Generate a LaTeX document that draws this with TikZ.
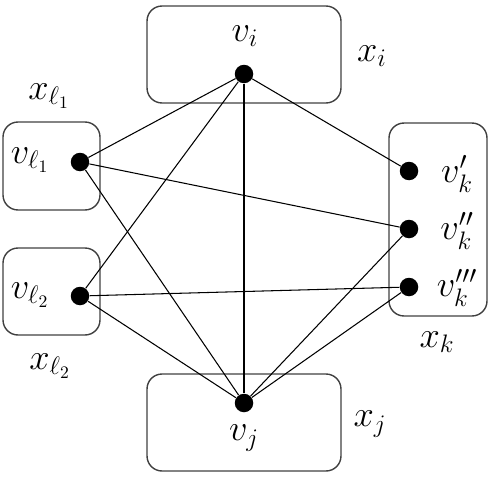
\documentclass[tikz,border=0pt]{standalone}
\usepackage{amsmath,amssymb}
\usetikzlibrary{positioning}

\begin{document}
\begin{tikzpicture}[x=0.02cm, y=-0.02cm,
    vertex/.style={circle, fill=black, inner sep=0pt, minimum size=0.37cm},
    cluster/.style={draw=black!75, line width=0.8pt, rounded corners=0.3cm, inner sep=0pt},
    lbl/.style={font=\fontsize{19.5}{23}\selectfont, inner sep=0pt},
    edge/.style={line width=0.6pt}]
    \useasboundingbox (0,0) rectangle (490,480);
    % clusters
    \node[cluster, minimum width=3.88cm, minimum height=1.94cm] (Xi) at (244,54.5) {};
    \node[cluster, minimum width=3.88cm, minimum height=1.94cm] (Xj) at (244,422.5) {};
    \node[cluster, minimum width=1.94cm, minimum height=1.76cm] (Xl1) at (51.5,166) {};
    \node[cluster, minimum width=1.94cm, minimum height=1.74cm] (Xl2) at (51.5,291.5) {};
    \node[cluster, minimum width=1.96cm, minimum height=3.86cm] (Xk) at (438,219.5) {};
    % vertices
    \node[vertex] (vi) at (244,74) {};
    \node[vertex] (vj) at (244,403) {};
    \node[vertex] (vl1) at (80,162) {};
    \node[vertex] (vl2) at (80,296) {};
    \node[vertex] (vk1) at (409,171) {};
    \node[vertex] (vk2) at (409,229) {};
    \node[vertex] (vk3) at (409,287) {};
    % vertex labels
    \node[lbl] (ti) at (245,36) {$v_i$};
    \node[lbl] (tj) at (244,438) {$v_j$};
    \node[lbl] (tl1) at (30,160) {$v_{\ell_1}$};
    \node[lbl] (tl2) at (30,295) {$v_{\ell_2}$};
    \node[lbl] (tk1) at (457,174) {$v'_k$};
    \node[lbl] (tk2) at (457,231) {$v''_k$};
    \node[lbl] (tk3) at (457,288) {$v'''_k$};
    % cluster labels
    \node[lbl] (ci) at (372,56) {$x_i$};
    \node[lbl] (cj) at (370,424) {$x_j$};
    \node[lbl] (cl1) at (49,96) {$x_{\ell_1}$};
    \node[lbl] (cl2) at (50,366) {$x_{\ell_2}$};
    \node[lbl] (ck) at (437,342) {$x_k$};
    % edges
    \foreach \a/\b in {vi/vl1, vi/vl2, vi/vj, vi/vk1, vl1/vk2, vl1/vj,
                       vl2/vk3, vl2/vj, vj/vk2, vj/vk3}
        \draw[edge] (\a) -- (\b);
\end{tikzpicture}
\end{document}
